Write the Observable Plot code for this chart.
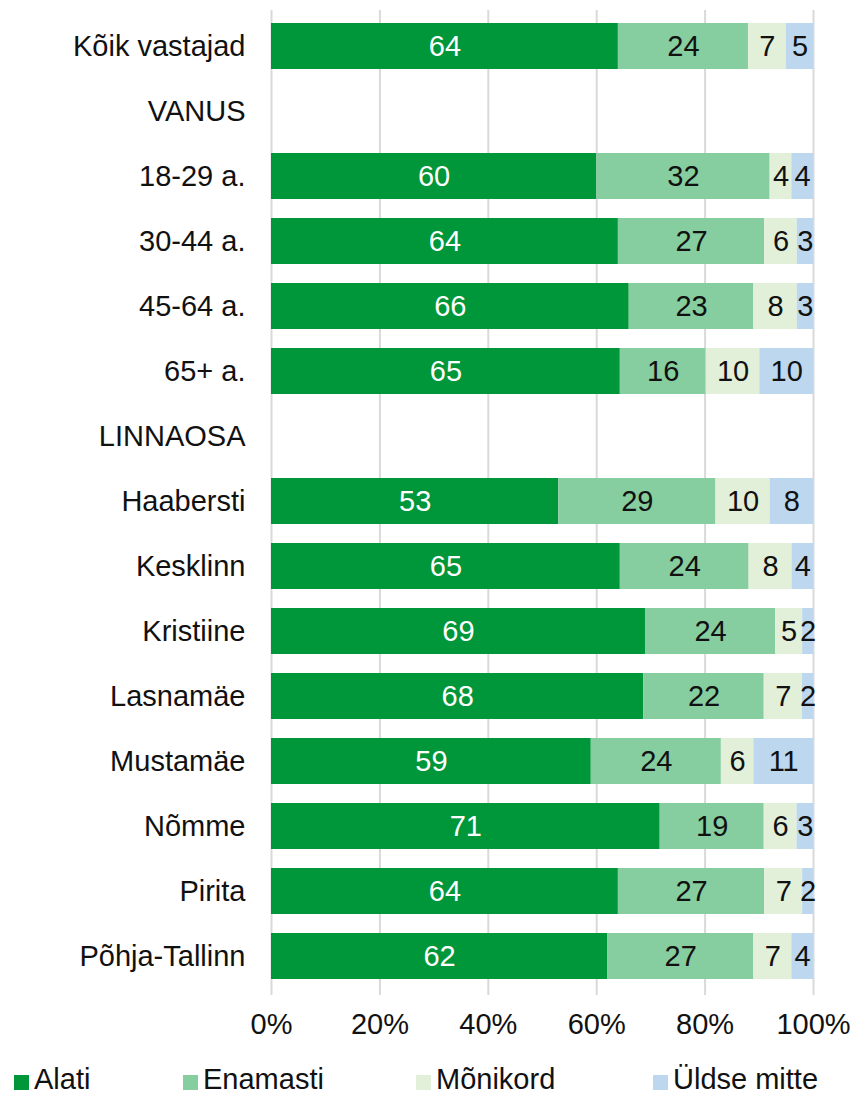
<!DOCTYPE html>
<html>
<head>
<meta charset="utf-8">
<script src="https://cdn.jsdelivr.net/npm/d3@7"></script>
<script src="https://cdn.jsdelivr.net/npm/@observablehq/plot@0.6"></script>
<style>
  body { margin: 0; background: #fff; font-family: "Liberation Sans", Arial, sans-serif; }
  #legend { position: relative; width: 852px; height: 48px; font-size: 29px; color: #111; }
  .item { position: absolute; top: 18px; display: flex; align-items: center; white-space: nowrap; line-height: 33px; }
  .sw { width: 15px; height: 15px; margin-right: 5px; margin-top: 6px; }
</style>
</head>
<body>
<div id="chart"></div>
<div id="legend"></div>
<script>
const categories = ["Kõik vastajad","VANUS","18-29 a.","30-44 a.","45-64 a.","65+ a.","LINNAOSA","Haabersti","Kesklinn","Kristiine","Lasnamäe","Mustamäe","Nõmme","Pirita","Põhja-Tallinn"];
const series = ["Alati","Enamasti","Mõnikord","Üldse mitte"];
const colors = ["#00963a","#86cd9f","#e2efd9","#bdd7ee"];
const alati     = [64,null,60,64,66,65,null,53,65,69,68,59,71,64,62];
const enamasti  = [24,null,32,27,23,16,null,29,24,24,22,24,19,27,27];
const monikord  = [7, null,4, 6, 8, 10,null,10,8, 5, 7, 6, 6, 7, 7];
const uldse     = [5, null,4, 3, 3, 10,null,8, 4, 2, 2, 11,3, 2, 4];
const xTicks = [0, 0.2, 0.4, 0.6, 0.8, 1];

const seriesValues = [alati, enamasti, monikord, uldse];
const data = [];
categories.forEach((c, i) => {
  series.forEach((s, j) => {
    const v = seriesValues[j][i];
    if (v != null) data.push({cat: c, series: s, value: v});
  });
});

const chart = Plot.plot({
  width: 852,
  height: 1045,
  marginLeft: 271,
  marginRight: 39,
  marginTop: 11,
  marginBottom: 54,
  style: {fontFamily: "'Liberation Sans', Arial, sans-serif", fontSize: "29px", color: "#111", background: "#fff"},
  x: {domain: [0, 1], ticks: xTicks, tickFormat: d => Math.round(d * 100) + "%", label: null, tickSize: 0, tickPadding: 22},
  y: {domain: categories, paddingInner: 0.3, paddingOuter: 0.15, label: null, tickSize: 0, tickPadding: 26},
  color: {domain: series, range: colors},
  marks: [
    Plot.ruleX(xTicks, {stroke: "#d9d9d9", strokeWidth: 2, insetTop: -1, insetBottom: -4}),
    Plot.barX(data, Plot.stackX({x: "value", y: "cat", z: "series", fill: "series", offset: "normalize"})),
    Plot.text(data, Plot.stackX({
      x: "value", y: "cat", z: "series", offset: "normalize",
      text: d => String(d.value),
      fill: d => d.series === "Alati" ? "#ffffff" : "#111111",
      fontSize: 29
    }))
  ]
});
document.getElementById("chart").appendChild(chart);

const legend = document.getElementById("legend");
const lefts = [14, 183, 416, 653];
series.forEach((s, i) => {
  const it = document.createElement("div");
  it.className = "item";
  it.style.left = lefts[i] + "px";
  const sw = document.createElement("span");
  sw.className = "sw";
  sw.style.background = colors[i];
  const t = document.createElement("span");
  t.textContent = s;
  it.appendChild(sw);
  it.appendChild(t);
  legend.appendChild(it);
});
</script>
</body>
</html>
